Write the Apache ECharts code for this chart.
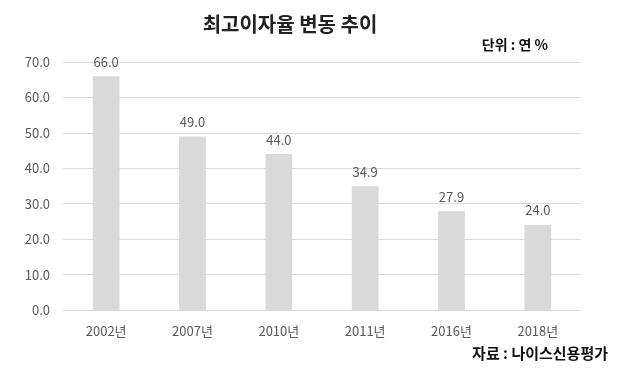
<!DOCTYPE html>
<html><head><meta charset="utf-8">
<script src="https://cdn.jsdelivr.net/npm/echarts@6/dist/echarts.min.js"></script>
<style>html,body{margin:0;padding:0;background:#fff}#c{width:630px;height:372px}</style>
</head><body><div id="c"></div>
<script>
const categories = ['2002년','2007년','2010년','2011년','2016년','2018년'];
const rates = [66.0, 49.0, 44.0, 34.9, 27.9, 24.0];
const titleText = '최고이자율 변동 추이';
const unitText = '단위 : 연 %';
const sourceText = '자료 : 나이스신용평가';
const font = '"Noto Sans CJK KR", "Noto Sans", sans-serif';
const chart = echarts.init(document.getElementById('c'));
chart.setOption({
  animation: false,
  backgroundColor: '#fff',
  title: [
    {text: titleText, left: 285, top: 9, textAlign: 'center',
     textStyle: {fontFamily: font, fontSize: 20, fontWeight: 'bold', color: '#222'}},
  ],
  graphic: [
    {type: 'text', right: 82, top: 38, style: {text: unitText, font: 'bold 14px ' + font, fill: '#111'}},
    {type: 'text', right: 22, top: 346, style: {text: sourceText, font: 'bold 15px ' + font, fill: '#111'}}
  ],
  grid: {left: 63, right: 49, top: 62, bottom: 62},
  xAxis: {
    type: 'category', data: categories,
    axisLine: {show: true, lineStyle: {color: '#d9d9d9'}},
    axisTick: {show: false},
    axisLabel: {color: '#595959', fontFamily: font, fontSize: 13, margin: 15}
  },
  yAxis: {
    type: 'value', min: 0, max: 70, interval: 10,
    axisLine: {show: false}, axisTick: {show: false},
    splitLine: {lineStyle: {color: '#d9d9d9'}},
    axisLabel: {color: '#595959', fontFamily: font, fontSize: 13, margin: 13,
      formatter: v => v.toFixed(1)}
  },
  series: [{
    type: 'bar', data: rates, barWidth: '31%',
    itemStyle: {color: '#d9d9d9'},
    label: {show: true, position: 'top', distance: 8, color: '#595959', fontFamily: font, fontSize: 13,
      formatter: p => p.value.toFixed(1)}
  }]
});
</script></body></html>
